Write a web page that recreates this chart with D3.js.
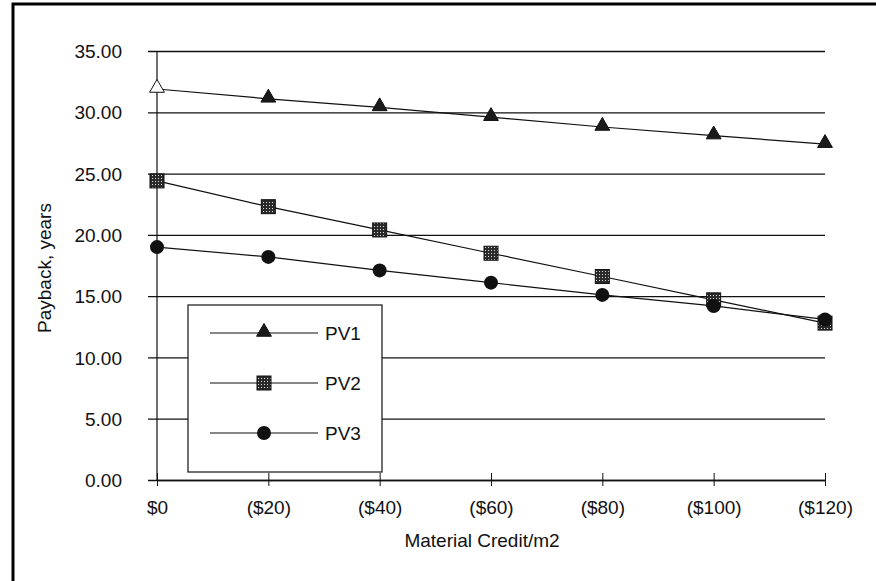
<!DOCTYPE html>
<html>
<head>
<meta charset="utf-8">
<script src="https://cdn.jsdelivr.net/npm/d3@7"></script>
<style>
  body { margin: 0; background: #fff; }
  text { font-family: "Liberation Sans", Arial, sans-serif; fill: #111; }
</style>
</head>
<body>
<div id="chart"></div>
<script>
// Data
const credits = ["$0", "($20)", "($40)", "($60)", "($80)", "($100)", "($120)"];
const pv1 = [31.9, 31.1, 30.4, 29.6, 28.8, 28.1, 27.4];
const pv2 = [24.4, 22.3, 20.4, 18.5, 16.6, 14.7, 12.8];
const pv3 = [19.0, 18.2, 17.1, 16.1, 15.1, 14.2, 13.1];
const yTicks = [0, 5, 10, 15, 20, 25, 30, 35];
const seriesNames = ["PV1", "PV2", "PV3"];

const W = 876, H = 581;
const margin = { top: 51, right: 51, bottom: 101, left: 157 };
const width = W - margin.left - margin.right,
      height = H - margin.top - margin.bottom;
const fontSize = "19px";

const root = d3.select("#chart").append("svg")
    .attr("width", W)
    .attr("height", H);

// Square marker fill: dark with light dots
const defs = root.append("defs");
const pat = defs.append("pattern")
    .attr("id", "dots")
    .attr("width", 3).attr("height", 3)
    .attr("patternUnits", "userSpaceOnUse");
pat.append("rect").attr("width", 3).attr("height", 3).attr("fill", "#2a2a2a");
pat.append("rect").attr("x", 1).attr("y", 1).attr("width", 1).attr("height", 1).attr("fill", "#ddd");

// Outer frame (left and top edges visible)
root.append("path")
    .attr("d", `M13,${H} L13,4 L${W},4`)
    .attr("fill", "none")
    .attr("stroke", "#000")
    .attr("stroke-width", 3);

const svg = root.append("g")
    .attr("transform", `translate(${margin.left},${margin.top})`);

const x = d3.scalePoint()
    .domain(credits)
    .range([0, width]);

const y = d3.scaleLinear()
    .domain([0, 35])
    .range([height, 0]);

// Gridlines + y axis
const yAxis = svg.append("g")
    .call(d3.axisLeft(y)
        .tickValues(yTicks)
        .tickSize(-width - 9)
        .tickFormat(d3.format(".2f")))
    .attr("transform", "translate(-9,0)");
yAxis.attr("font-family", null).attr("font-size", null);
yAxis.select(".domain").remove();
yAxis.selectAll(".tick line")
    .attr("stroke", "#111")
    .attr("stroke-width", 1.3);
yAxis.selectAll(".tick text")
    .attr("x", -26)
    .attr("dy", "0.35em")
    .style("font-size", fontSize)
    .attr("fill", "#111");

svg.append("line")
    .attr("x1", 0).attr("x2", 0)
    .attr("y1", 0).attr("y2", height)
    .attr("stroke", "#111")
    .attr("stroke-width", 1.2);

// X axis with ticks crossing the line
const xAxis = svg.append("g")
    .attr("transform", `translate(0,${height})`)
    .call(d3.axisBottom(x).tickSizeInner(7).tickSizeOuter(0).tickPadding(14));
xAxis.attr("font-family", null).attr("font-size", null);
xAxis.select(".domain").attr("stroke", "#111").attr("stroke-width", 1.5);
xAxis.selectAll(".tick line")
    .attr("y1", -7)
    .attr("y2", 6)
    .attr("stroke", "#111");
xAxis.selectAll(".tick text")
    .style("font-size", fontSize)
    .attr("fill", "#111");

// Axis titles
svg.append("text")
    .attr("x", 325)
    .attr("y", height + 67)
    .attr("text-anchor", "middle")
    .style("font-size", fontSize)
    .text("Material Credit/m2");

svg.append("text")
    .attr("transform", `translate(${51 - margin.left},${268 - margin.top}) rotate(-90)`)
    .attr("text-anchor", "middle")
    .style("font-size", fontSize)
    .text("Payback, years");

// Lines
const line = d3.line()
    .x((d, i) => x(credits[i]))
    .y(d => y(d));

const allSeries = [pv1, pv2, pv3];
allSeries.forEach(s => {
    svg.append("path")
        .datum(s)
        .attr("d", line)
        .attr("fill", "none")
        .attr("stroke", "#111")
        .attr("stroke-width", 1.2);
});

// Marker drawing helpers
const triPath = d3.symbol().type(d3.symbolTriangle).size(95);
function drawMarker(g, type, cx, cy, open) {
    if (type === 0) {
        g.append("path")
            .attr("d", triPath())
            .attr("transform", `translate(${cx},${cy - 1})`)
            .attr("fill", open ? "#fff" : "#1a1a1a")
            .attr("stroke", "#111")
            .attr("stroke-width", 1);
    } else if (type === 1) {
        g.append("rect")
            .attr("x", cx - 7).attr("y", cy - 7)
            .attr("width", 14).attr("height", 14)
            .attr("fill", "url(#dots)")
            .attr("stroke", "#111")
            .attr("stroke-width", 1);
    } else {
        g.append("circle")
            .attr("cx", cx).attr("cy", cy)
            .attr("r", 7)
            .attr("fill", "#111");
    }
}

const markers = svg.append("g");
allSeries.forEach((s, k) => {
    s.forEach((v, i) => {
        drawMarker(markers, k, x(credits[i]), y(v), k === 0 && i === 0);
    });
});

// Legend
const legend = svg.append("g")
    .attr("transform", `translate(${188 - margin.left},${305 - margin.top})`);
legend.append("rect")
    .attr("width", 194)
    .attr("height", 167)
    .attr("fill", "#fff")
    .attr("stroke", "#111")
    .attr("stroke-width", 1.2);

seriesNames.forEach((name, k) => {
    const ly = 28 + k * 50;
    legend.append("line")
        .attr("x1", 22).attr("x2", 130)
        .attr("y1", ly).attr("y2", ly)
        .attr("stroke", "#111")
        .attr("stroke-width", 1.2);
    drawMarker(legend, k, 76, ly, false);
    legend.append("text")
        .attr("x", 137)
        .attr("y", ly)
        .attr("dy", "0.35em")
        .style("font-size", fontSize)
        .text(name);
});
</script>
</body>
</html>
